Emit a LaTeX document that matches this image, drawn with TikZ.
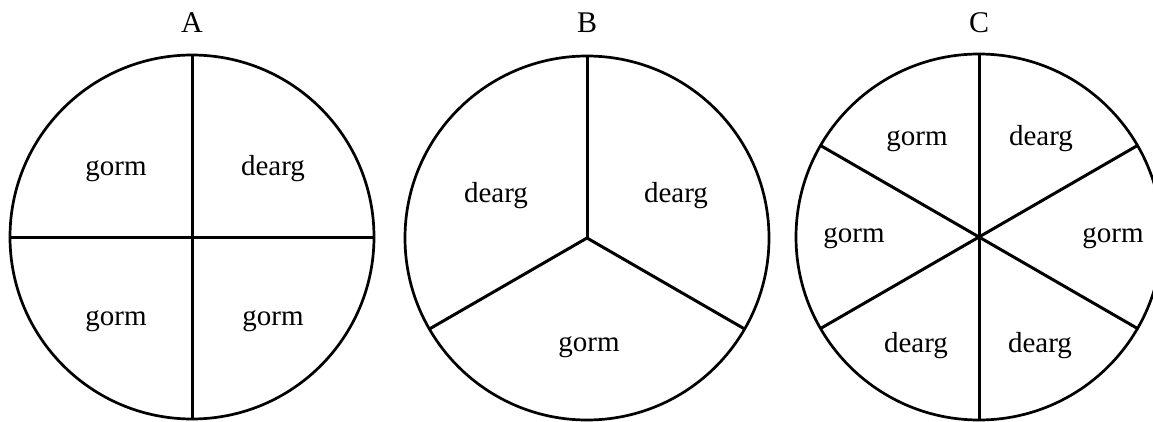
\documentclass[tikz,border=0pt]{standalone}
\usepackage{fontspec}
\setmainfont{Liberation Serif}
\begin{document}
\begin{tikzpicture}[x=1pt,y=1pt,
  disc/.style={circle, draw, line width=2.7pt, inner sep=0pt, outer sep=0pt, minimum size=#1},
  spoke/.style={line width=3pt},
  word/.style={anchor=base, inner sep=0pt, font=\fontsize{29}{30}\selectfont},
  head/.style={anchor=base, inner sep=0pt, font=\fontsize{30}{31}\selectfont}]
\useasboundingbox (0,0) rectangle (1153,421);
\clip (0,0) rectangle (1153,421);
% A
\node[disc=364pt] (cA) at (192,184) {};
\draw[spoke] (cA.90) -- (cA.270);
\draw[spoke] (cA.180) -- (cA.0);
\node[head] (lA) at (192,388) {A};
\node[word] (a1) at (116,245) {gorm};
\node[word] (a2) at (273,245) {dearg};
\node[word] (a3) at (116,96) {gorm};
\node[word] (a4) at (273,96) {gorm};
% B
\node[disc=364pt] (cB) at (587,183) {};
\draw[spoke] (cB.center) -- (cB.90);
\draw[spoke] (cB.center) -- (cB.210);
\draw[spoke] (cB.center) -- (cB.330);
\node[head] (lB) at (587,388) {B};
\node[word] (b1) at (496,219) {dearg};
\node[word] (b2) at (676,219) {dearg};
\node[word] (b3) at (589,70) {gorm};
% C
\node[disc=366pt] (cC) at (979,184) {};
\draw[spoke] (cC.90) -- (cC.270);
\draw[spoke] (cC.150) -- (cC.330);
\draw[spoke] (cC.210) -- (cC.30);
\node[head] (lC) at (979,388) {C};
\node[word] (c1) at (917,276) {gorm};
\node[word] (c2) at (1041,276) {dearg};
\node[word] (c3) at (854,179) {gorm};
\node[word] (c4) at (1113,179) {gorm};
\node[word] (c5) at (916,69) {dearg};
\node[word] (c6) at (1040,69) {dearg};
\end{tikzpicture}
\end{document}
